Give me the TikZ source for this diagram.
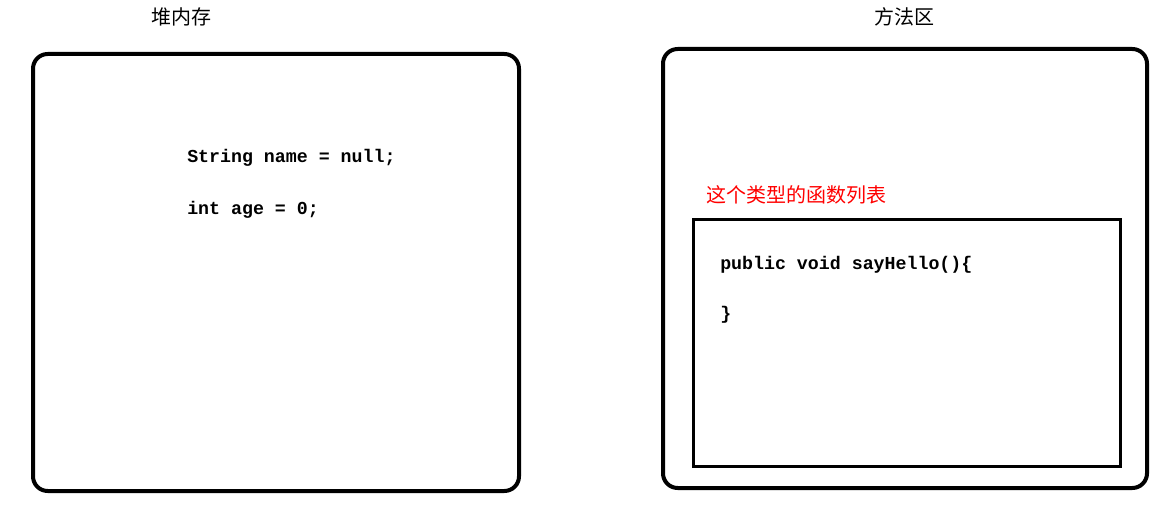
\documentclass[tikz,border=0pt]{standalone}
\usepackage{fontspec}
\setmonofont{Liberation Mono}
\newfontfamily\cjk{Noto Sans CJK SC}
\usetikzlibrary{positioning}

\tikzset{
  area/.style={draw, line width=3pt, rounded corners=11pt, inner sep=0pt},
  listbox/.style={draw, line width=2.25pt, inner sep=0pt},
  title/.style={font=\cjk\fontsize{15pt}{18pt}\selectfont, inner sep=0pt},
  code/.style={font=\ttfamily\bfseries\fontsize{13.7pt}{16pt}\selectfont, inner sep=0pt, anchor=west},
}

\begin{document}
\begin{tikzpicture}[x=0.75pt, y=-0.75pt]
    \fill[white] (0,0) rectangle (1171,513);
    \useasboundingbox (0,0) rectangle (1171,513);

    % heap
    \node[area, minimum width=364.5pt, minimum height=327.75pt] (heap) at (276,272.5) {};
    \node[title] (heapTitle) at (181,17) {堆内存};
    \node[code] (nameField) at (187,157.5) {String name = null;};
    \node[code] (ageField) at (187,209.5) {int age = 0;};

    % method area
    \node[area, minimum width=363pt, minimum height=329.25pt] (method) at (905,268.5) {};
    \node[title] (methodTitle) at (904,17) {方法区};
    \node[listbox, minimum width=320.25pt, minimum height=184.5pt] (funcs) at (906.5,343) {};
    \node[title, text=red, anchor=south west] (funcsTitle) at (706,204) {这个类型的函数列表};
    \node[code] (sayHello) at (720,264.5) {public void sayHello()\{};
    \node[code] (closeBrace) at (720,314.5) {\}};
\end{tikzpicture}
\end{document}
